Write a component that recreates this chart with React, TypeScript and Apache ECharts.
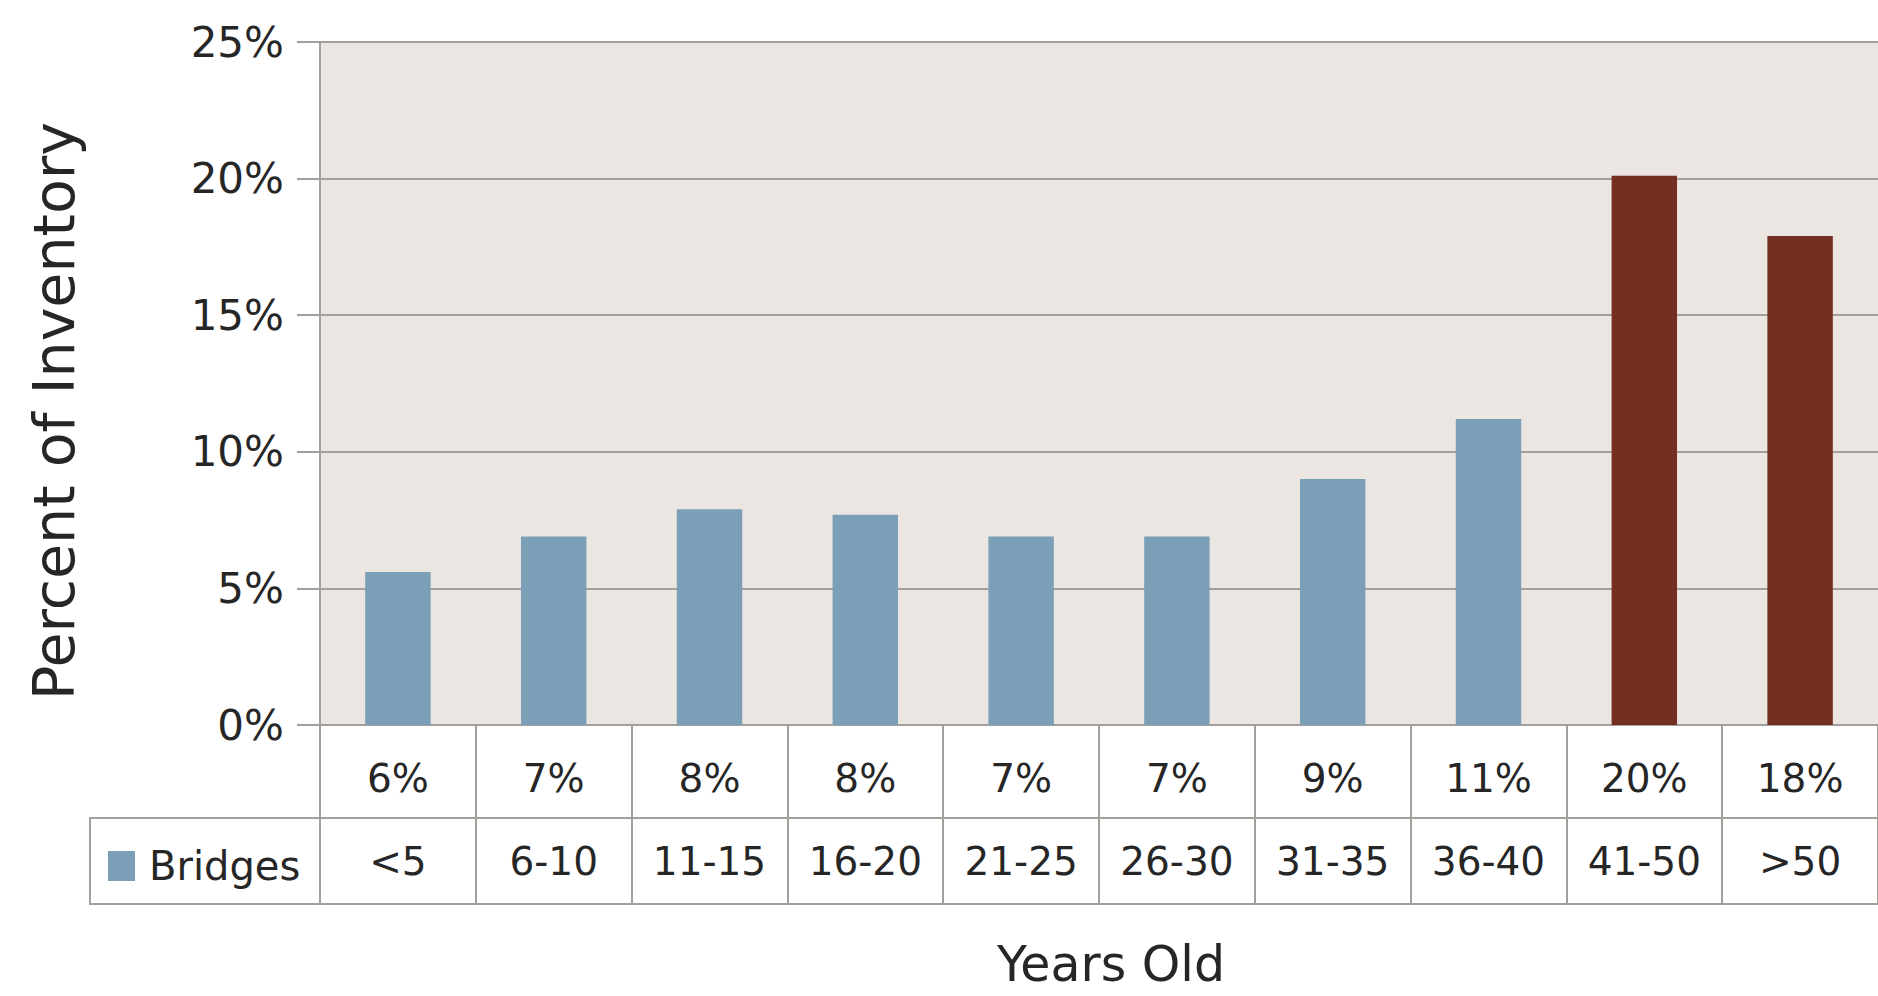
import React, { useEffect, useRef } from "react";
import * as echarts from "echarts";

const categories = ["<5", "6-10", "11-15", "16-20", "21-25", "26-30", "31-35", "36-40", "41-50", ">50"];
const bridgeShares = [5.6, 6.9, 7.9, 7.7, 6.9, 6.9, 9.0, 11.2, 20.1, 17.9];
const highlightedCategories = ["41-50", ">50"];
const yTicks = [0, 5, 10, 15, 20, 25];
const seriesName = "Bridges";
const yTitle = "Percent of Inventory";
const xTitle = "Years Old";

const BLUE = "#7a9fb6";
const RED = "#722f22";
const GRIDLINE = "#a3a09c";
const TEXT = "#262626";
const FONT = "'DejaVu Sans', Verdana, sans-serif";

export default function App() {
  const ref = useRef<HTMLDivElement>(null);

  useEffect(() => {
    if (!ref.current) return;
    const chart = echarts.init(ref.current, undefined, { renderer: "svg" });
    const pctLabels = bridgeShares.map((v) => `${Math.round(v)}%`);

    const option: any = {
      animation: false,
      backgroundColor: "#ffffff",
      textStyle: { fontFamily: FONT, color: TEXT },
      grid: {
        left: 320,
        right: 0,
        top: 42,
        bottom: 271,
        show: true,
        backgroundColor: "#ebe6e1",
        borderWidth: 0,
      },
      legend: {
        data: [seriesName],
        left: 103,
        top: 841,
        icon: "rect",
        itemWidth: 27,
        itemHeight: 30,
        textStyle: { fontFamily: FONT, fontSize: 40, color: TEXT, padding: [0, 0, 0, 9] },
        selectedMode: false,
      },
      xAxis: {
        type: "category",
        data: categories,
        axisLine: { show: true, lineStyle: { color: GRIDLINE, width: 2 } },
        axisTick: { show: true, length: 180, lineStyle: { color: GRIDLINE, width: 2 } },
        axisLabel: {
          interval: 0,
          margin: 0,
          formatter: (v: string, i: number) => `{v|${pctLabels[i]}}\n{c|${v}}`,
          rich: {
            v: { fontFamily: FONT, fontSize: 39, color: TEXT, lineHeight: 107 },
            c: { fontFamily: FONT, fontSize: 39, color: TEXT, lineHeight: 59 },
          },
        },
      },
      yAxis: {
        type: "value",
        min: yTicks[0],
        max: yTicks[yTicks.length - 1],
        interval: yTicks[1] - yTicks[0],
        axisLine: { show: true, lineStyle: { color: GRIDLINE, width: 2 } },
        axisTick: { show: true, length: 23, lineStyle: { color: GRIDLINE, width: 2 } },
        splitLine: { show: true, lineStyle: { color: GRIDLINE, width: 2 } },
        axisLabel: {
          formatter: "{value}%",
          fontFamily: FONT,
          fontSize: 42,
          color: TEXT,
          margin: 36,
        },
      },
      series: [
        {
          name: seriesName,
          type: "bar",
          barWidth: "42%",
          itemStyle: { color: BLUE },
          data: bridgeShares.map((v, i) => ({
            value: v,
            itemStyle: { color: highlightedCategories.includes(categories[i]) ? RED : BLUE },
          })),
        },
      ],
      graphic: [
        {
          type: "rect",
          shape: { x: 90, y: 818, width: 1800, height: 86 },
          style: { fill: "none", stroke: GRIDLINE, lineWidth: 2 },
          silent: true,
        },
        {
          type: "text",
          x: 54,
          y: 411,
          rotation: Math.PI / 2,
          style: {
            text: yTitle,
            fontFamily: FONT,
            fontSize: 57,
            fill: TEXT,
            align: "center",
            verticalAlign: "middle",
          },
        },
        {
          type: "text",
          x: 1111,
          y: 964,
          style: {
            text: xTitle,
            fontFamily: FONT,
            fontSize: 49,
            fill: TEXT,
            align: "center",
            verticalAlign: "middle",
          },
        },
      ],
    };

    chart.setOption(option);
    return () => chart.dispose();
  }, []);

  return (
    <div
      ref={ref}
      style={{ position: "absolute", left: 0, top: 0, width: 1878, height: 996, background: "#fff" }}
    />
  );
}
